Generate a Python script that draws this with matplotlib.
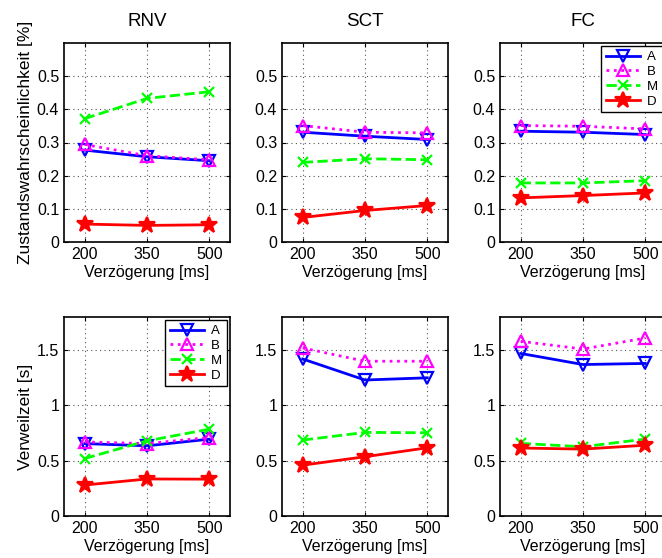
import numpy as np
import matplotlib
matplotlib.use('Agg')
import matplotlib.pyplot as plt
from matplotlib.ticker import FormatStrFormatter

plt.rcParams['font.family'] = ['Liberation Sans', 'DejaVu Sans']

delays = [200, 350, 500]
panels = ['RNV', 'SCT', 'FC']
series = ['A', 'B', 'M', 'D']

# Zustandswahrscheinlichkeit (oben)
prob_A = [[0.277, 0.257, 0.245], [0.331, 0.319, 0.309], [0.334, 0.331, 0.324]]
prob_B = [[0.294, 0.260, 0.248], [0.351, 0.331, 0.329], [0.351, 0.349, 0.341]]
prob_M = [[0.372, 0.433, 0.453], [0.240, 0.251, 0.248], [0.178, 0.178, 0.185]]
prob_D = [[0.054, 0.050, 0.052], [0.074, 0.095, 0.110], [0.133, 0.140, 0.148]]

# Verweilzeit (unten)
dwell_A = [[0.655, 0.635, 0.695], [1.42, 1.23, 1.25], [1.47, 1.37, 1.38]]
dwell_B = [[0.670, 0.655, 0.710], [1.52, 1.40, 1.40], [1.58, 1.51, 1.61]]
dwell_M = [[0.52, 0.68, 0.785], [0.687, 0.756, 0.753], [0.657, 0.626, 0.696]]
dwell_D = [[0.28, 0.335, 0.333], [0.46, 0.536, 0.617], [0.615, 0.605, 0.64]]

styles = {
    'A': dict(color='#0000ff', linestyle='-', marker='v', mfc='none', ms=8),
    'B': dict(color='#ff00ff', linestyle=':', marker='^', mfc='none', ms=8),
    'M': dict(color='#00ff00', linestyle='--', marker='x', mfc='none', ms=7),
    'D': dict(color='#ff0000', linestyle='-', marker='*', mfc='#ff0000', ms=12),
}

W, H = 662, 558
fig = plt.figure(figsize=(W / 100, H / 100), dpi=100)

lefts = [64, 282, 500]
tops = [43, 317]
aw, ah = 166, 199

rows = [
    ([prob_A, prob_B, prob_M, prob_D], (0, 0.6), [0, 0.1, 0.2, 0.3, 0.4, 0.5], 'Zustandswahrscheinlichkeit [%]', 2),
    ([dwell_A, dwell_B, dwell_M, dwell_D], (0, 1.8), [0, 0.5, 1, 1.5], 'Verweilzeit [s]', 0),
]

for r, (data, ylim, yticks, ylab, legpanel) in enumerate(rows):
    for c, name in enumerate(panels):
        ax = fig.add_axes([lefts[c] / W, 1 - (tops[r] + ah) / H, aw / W, ah / H])
        for s, vals in zip(series, data):
            st = styles[s]
            ax.plot(delays, vals[c], color=st['color'], linestyle=st['linestyle'],
                    marker=st['marker'], markerfacecolor=st['mfc'],
                    markeredgecolor=st['color'], markersize=st['ms'], markeredgewidth=1.6,
                    linewidth=2, label=s)
        ax.set_xlim(150, 550)
        ax.set_ylim(*ylim)
        ax.set_xticks(delays)
        ax.set_yticks(yticks)
        ax.yaxis.set_major_formatter(FormatStrFormatter('%g'))
        ax.grid(True, linestyle=(0, (1, 3)), color='#555555', linewidth=0.8)
        ax.tick_params(direction='in', top=True, right=True, labelsize=11.5, length=3)
        for sp in ax.spines.values():
            sp.set_linewidth(1.2)
        ax.set_xlabel('Verzögerung [ms]', fontsize=11.5, labelpad=2)
        if r == 0:
            ax.set_title(name, fontsize=13.5, pad=12)
        if c == 0:
            ax.set_ylabel(ylab, fontsize=12.5, labelpad=3)
        if c == legpanel:
            leg = ax.legend(loc='upper right', fontsize=9.5, handlelength=2.6,
                            fancybox=False, edgecolor='black', framealpha=1,
                            borderpad=0.35, labelspacing=0.2, handletextpad=0.5,
                            borderaxespad=0.25)
            leg.get_frame().set_linewidth(1.0)

fig.savefig('out.png', dpi=100)
